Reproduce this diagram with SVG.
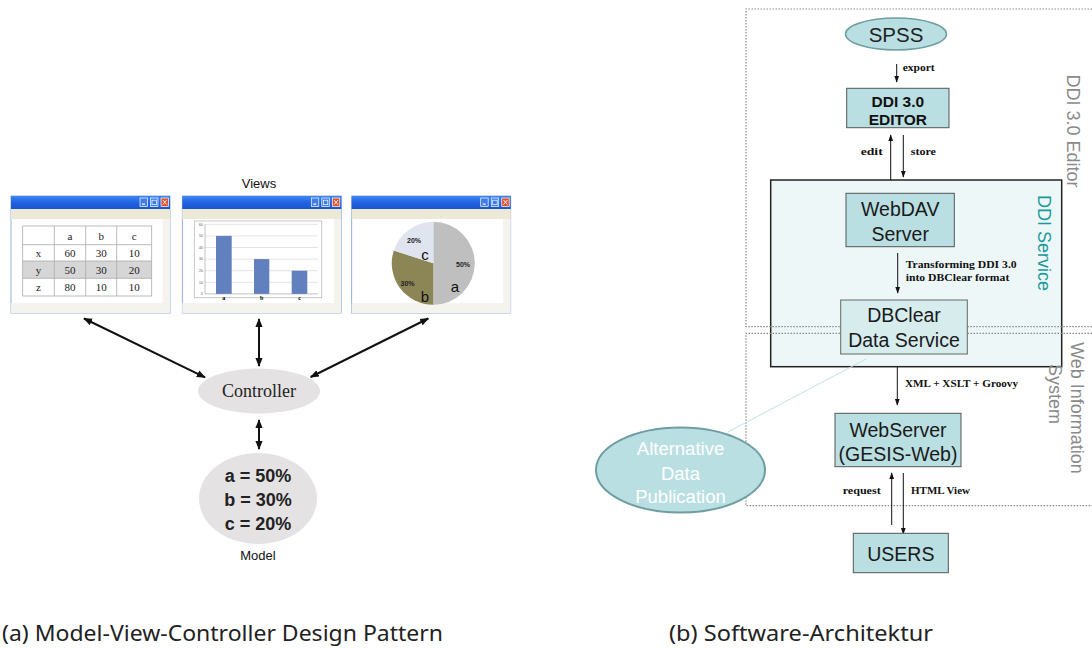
<svg xmlns="http://www.w3.org/2000/svg" width="1092" height="648" viewBox="0 0 1092 648">
<style>
.sans{font-family:"Liberation Sans",Arial,sans-serif}
.serif{font-family:"Liberation Serif","Times New Roman",serif}
.cell{font-family:"Liberation Serif",serif;font-size:11px;fill:#222;text-anchor:middle}
.lbl{font-family:"Liberation Serif",serif;font-size:10.5px;font-weight:bold;fill:#111}
.box{fill:#b9dfe2;stroke:#555;stroke-width:1}
.boxt{font-family:"Liberation Sans",Arial,sans-serif;font-size:19.5px;fill:#1a1a1a;text-anchor:middle}
.thin{stroke:#111;stroke-width:1;fill:none}
.thick{stroke:#111;stroke-width:2;fill:none}
.dot{stroke:#8a8a8a;stroke-width:1.2;stroke-dasharray:1.5 1.5;fill:none}
.grid{stroke:#d0d0d0;stroke-width:0.6}
.tick{font-family:"Liberation Sans",sans-serif;font-size:3.5px;fill:#555;text-anchor:end}
.cap{font-family:"Liberation Sans Narrow","Noto Sans","Open Sans",sans-serif;font-size:22px;fill:#222}
</style>
<defs>
<linearGradient id="tb" x1="0" y1="0" x2="0" y2="1">
<stop offset="0" stop-color="#3d86f2"/>
<stop offset="0.5" stop-color="#2163e0"/>
<stop offset="1" stop-color="#1a55d2"/>
</linearGradient>
<marker id="ah" viewBox="0 0 10 10" refX="9" refY="5" markerWidth="4.5" markerHeight="4.5" orient="auto-start-reverse" markerUnits="strokeWidth">
<path d="M0,1 L10,5 L0,9 Z" fill="#111"/>
</marker>
<marker id="ahs" viewBox="0 0 10 10" refX="9" refY="5" markerWidth="7" markerHeight="7" orient="auto-start-reverse" markerUnits="strokeWidth">
<path d="M0,1.5 L10,5 L0,8.5 Z" fill="#111"/>
</marker>
<g id="win">
<rect x="0" y="0" width="159" height="117" fill="#fff" stroke="#7c9cd8" stroke-width="0.8"/>
<rect x="0" y="0" width="159" height="13" fill="url(#tb)"/>
<rect x="129" y="2" width="7.5" height="8.5" fill="#3f7de8" stroke="#fff" stroke-width="0.7"/>
<rect x="131" y="7.5" width="3" height="1.2" fill="#fff"/>
<rect x="139.5" y="2" width="7.5" height="8.5" fill="#3f7de8" stroke="#fff" stroke-width="0.7"/>
<rect x="141" y="4.2" width="4.5" height="4.5" fill="none" stroke="#fff" stroke-width="0.7"/>
<rect x="150" y="2" width="7.5" height="8.5" fill="#e0552f" stroke="#fff" stroke-width="0.7"/>
<path d="M151.8,4 L155.7,8.5 M155.7,4 L151.8,8.5" stroke="#fff" stroke-width="0.9"/>
<rect x="0" y="13" width="159" height="10" fill="#ece9d8"/>
<rect x="151.5" y="23" width="7.5" height="84" fill="#f4f3ee"/>
<rect x="0" y="107" width="159" height="10" fill="#f4f3ee"/>
</g>
</defs>

<!-- (a) MVC -->
<text class="sans" x="259" y="188" font-size="13" text-anchor="middle" fill="#111">Views</text>

<g id="view-table">
<use href="#win" x="11" y="196"/>
<rect x="22.7" y="261" width="129" height="17.3" fill="#d6d6d6"/>
<rect x="22.7" y="226" width="129" height="70" fill="none" stroke="#aaa" stroke-width="0.8"/>
<path d="M54.3,226V296M85.7,226V296M116.7,226V296M22.7,244.7H151.7M22.7,261H151.7M22.7,278.3H151.7" stroke="#aaa" stroke-width="0.8"/>
<text class="cell" x="70" y="239.5">a</text><text class="cell" x="101.2" y="239.5">b</text><text class="cell" x="134.2" y="239.5">c</text>
<text class="cell" x="38.5" y="257">x</text><text class="cell" x="70" y="257">60</text><text class="cell" x="101.2" y="257">30</text><text class="cell" x="134.2" y="257">10</text>
<text class="cell" x="38.5" y="274">y</text><text class="cell" x="70" y="274">50</text><text class="cell" x="101.2" y="274">30</text><text class="cell" x="134.2" y="274">20</text>
<text class="cell" x="38.5" y="291">z</text><text class="cell" x="70" y="291">80</text><text class="cell" x="101.2" y="291">10</text><text class="cell" x="134.2" y="291">10</text>
</g>

<g id="view-bar">
<use href="#win" x="182.3" y="196"/>
<rect x="194.3" y="221" width="127.4" height="76.7" fill="#fff" stroke="#bbb" stroke-width="0.8"/>
<path class="grid" d="M205,224.3H318M205,235.9H318M205,247.5H318M205,259.1H318M205,270.7H318M205,282.3H318"/>
<path d="M205,224.3V293.9H318" stroke="#999" stroke-width="0.6" fill="none"/>
<text class="tick" x="203" y="225.5">60</text><text class="tick" x="203" y="237">50</text><text class="tick" x="203" y="248.7">40</text><text class="tick" x="203" y="260.3">30</text><text class="tick" x="203" y="271.9">20</text><text class="tick" x="203" y="283.5">10</text><text class="tick" x="203" y="295">0</text>
<rect x="216" y="235.9" width="15.7" height="58" fill="#6280bd"/>
<rect x="254" y="259.1" width="15.3" height="34.8" fill="#6280bd"/>
<rect x="291.7" y="270.7" width="15.6" height="23.2" fill="#6280bd"/>
<text class="serif" x="223.8" y="299.5" font-size="6" font-weight="bold" text-anchor="middle">a</text>
<text class="serif" x="261.7" y="299.5" font-size="6" font-weight="bold" text-anchor="middle">b</text>
<text class="serif" x="299.5" y="299.5" font-size="6" font-weight="bold" text-anchor="middle">c</text>
</g>

<g id="view-pie">
<use href="#win" x="351.7" y="196"/>
<path d="M433.3,263.3 L433.3,221.8 A41.5,41.5 0 0 1 433.3,304.8 Z" fill="#bfbfbf"/>
<path d="M433.3,263.3 L433.3,304.8 A41.5,41.5 0 0 1 393.8,250.5 Z" fill="#8c8657"/>
<path d="M433.3,263.3 L393.8,250.5 A41.5,41.5 0 0 1 433.3,221.8 Z" fill="#dfe4ef"/>
<text class="sans" x="463" y="267" font-size="7" font-weight="bold" text-anchor="middle" fill="#222">50%</text>
<text class="sans" x="455" y="292" font-size="15" text-anchor="middle" fill="#111">a</text>
<text class="sans" x="407.5" y="285.5" font-size="7" font-weight="bold" text-anchor="middle" fill="#222">30%</text>
<text class="sans" x="425" y="302" font-size="15" text-anchor="middle" fill="#111">b</text>
<text class="sans" x="414" y="242.5" font-size="7" font-weight="bold" text-anchor="middle" fill="#222">20%</text>
<text class="sans" x="425" y="260" font-size="15" text-anchor="middle" fill="#111">c</text>
</g>

<g id="controller">
<ellipse cx="259" cy="391" rx="61" ry="22.5" fill="#e4e2e2"/>
<text class="serif" x="259" y="397" font-size="18" text-anchor="middle" fill="#222">Controller</text>
</g>

<g id="model">
<ellipse cx="258" cy="498.5" rx="59" ry="45.5" fill="#e4e2e2"/>
<text class="sans" font-size="18" font-weight="bold" text-anchor="middle" fill="#222"><tspan x="258" y="481.5">a = 50%</tspan><tspan x="258" y="505.5">b = 30%</tspan><tspan x="258" y="530">c = 20%</tspan></text>
<text class="sans" x="258" y="560" font-size="13" text-anchor="middle" fill="#111">Model</text>
</g>

<g id="connectors-a">
<line class="thick" x1="84" y1="318.5" x2="205" y2="377.3" marker-start="url(#ah)" marker-end="url(#ah)"/>
<line class="thick" x1="259" y1="319" x2="259" y2="366" marker-start="url(#ah)" marker-end="url(#ah)"/>
<line class="thick" x1="428.3" y1="318.5" x2="310.7" y2="377" marker-start="url(#ah)" marker-end="url(#ah)"/>
<line class="thick" x1="259" y1="420" x2="259" y2="449" marker-start="url(#ah)" marker-end="url(#ah)"/>
</g>

<!-- (b) Architecture -->
<g id="ddi-service">
<rect x="770.7" y="180" width="291" height="186.7" fill="#eef7f8" stroke="#222" stroke-width="1.5"/>
<text class="sans" transform="translate(1038,243) rotate(90)" font-size="18" text-anchor="middle" fill="#1a9a9a">DDI Service</text>
</g>

<g id="zones">
<path class="dot" d="M1092,9H746V326.7H1092"/>
<path class="dot" d="M1092,333.3H746V505.7H1092"/>
<text class="sans" transform="translate(1067,131) rotate(90)" font-size="18" text-anchor="middle" fill="#8a8a8a">DDI 3.0 Editor</text>
<text class="sans" transform="translate(1071,408) rotate(90)" font-size="18" text-anchor="middle" fill="#8a8a8a">Web Information</text>
<text class="sans" transform="translate(1049,394) rotate(90)" font-size="18" text-anchor="middle" fill="#8a8a8a">System</text>
</g>

<g id="connectors-b">
<line x1="728" y1="432" x2="866" y2="359" stroke="#bfe2e5" stroke-width="1"/>
<line class="thin" x1="896.7" y1="64" x2="896.7" y2="82" marker-end="url(#ahs)"/>
<line class="thin" x1="890.7" y1="180" x2="890.7" y2="135" marker-end="url(#ahs)"/>
<line class="thin" x1="903.3" y1="135" x2="903.3" y2="177" marker-end="url(#ahs)"/>
<line class="thin" x1="897.7" y1="253" x2="897.7" y2="293" marker-end="url(#ahs)"/>
<line class="thin" x1="897.3" y1="366.7" x2="897.3" y2="405" marker-end="url(#ahs)"/>
<line class="thin" x1="891.7" y1="525" x2="891.7" y2="473" marker-end="url(#ahs)"/>
<line class="thin" x1="903.3" y1="473" x2="903.3" y2="534" marker-end="url(#ahs)"/>
<text class="lbl" x="902.7" y="70.5" textLength="32" lengthAdjust="spacingAndGlyphs">export</text>
<text class="lbl" x="860.7" y="155" textLength="22" lengthAdjust="spacingAndGlyphs">edit</text>
<text class="lbl" x="910.7" y="155" textLength="25.3" lengthAdjust="spacingAndGlyphs">store</text>
<text class="lbl" x="905.7" y="267.5" textLength="111" lengthAdjust="spacingAndGlyphs">Transforming DDI 3.0</text>
<text class="lbl" x="905.7" y="281" textLength="103.6" lengthAdjust="spacingAndGlyphs">into DBClear format</text>
<text class="lbl" x="905" y="386.5" textLength="113" lengthAdjust="spacingAndGlyphs">XML + XSLT + Groovy</text>
<text class="lbl" x="842.7" y="493.5" textLength="38" lengthAdjust="spacingAndGlyphs">request</text>
<text class="lbl" x="911" y="493.5" textLength="59" lengthAdjust="spacingAndGlyphs">HTML View</text>
</g>

<g id="spss">
<ellipse cx="896" cy="34" rx="50.5" ry="16" fill="#b9dfe2" stroke="#6e9ea2" stroke-width="1.5"/>
<text class="sans" x="896" y="41.5" font-size="20.5" text-anchor="middle" fill="#222">SPSS</text>
</g>

<g id="ddi-editor">
<rect class="box" x="846.7" y="88.3" width="102.3" height="39.4"/>
<text class="sans" font-size="15.5" font-weight="bold" text-anchor="middle" fill="#111"><tspan x="897.8" y="107">DDI 3.0</tspan><tspan x="897.8" y="124.5">EDITOR</tspan></text>
</g>

<g id="webdav">
<rect class="box" x="846" y="193.3" width="108.3" height="53.4"/>
<text class="boxt"><tspan x="900.2" y="216">WebDAV</tspan><tspan x="900.2" y="240.5">Server</tspan></text>
</g>

<g id="dbclear">
<rect x="840.7" y="300" width="126.6" height="54" fill="#d6eced" stroke="#666" stroke-width="1"/>
<text class="boxt"><tspan x="904" y="322">DBClear</tspan><tspan x="904" y="347">Data Service</tspan></text>
</g>

<g id="webserver">
<rect class="box" x="835" y="413.3" width="126" height="53.4"/>
<text class="boxt"><tspan x="898" y="437">WebServer</tspan><tspan x="898" y="461">(GESIS-Web)</tspan></text>
</g>

<g id="users">
<rect class="box" x="853.3" y="533.3" width="95" height="39.4"/>
<text class="boxt" x="900.8" y="560.5">USERS</text>
</g>

<g id="alt-pub">
<ellipse cx="680.5" cy="470" rx="84.5" ry="42.5" fill="#b9dfe2" stroke="#6e9ea2" stroke-width="2"/>
<text class="sans" font-size="18.5" text-anchor="middle" fill="#fff"><tspan x="680.5" y="455">Alternative</tspan><tspan x="680.5" y="479.5">Data</tspan><tspan x="680.5" y="503">Publication</tspan></text>
</g>

<!-- captions -->
<text class="cap" x="2" y="641" textLength="441" lengthAdjust="spacingAndGlyphs">(a) Model-View-Controller Design Pattern</text>
<text class="cap" x="669" y="641" textLength="264" lengthAdjust="spacingAndGlyphs">(b) Software-Architektur</text>
</svg>
